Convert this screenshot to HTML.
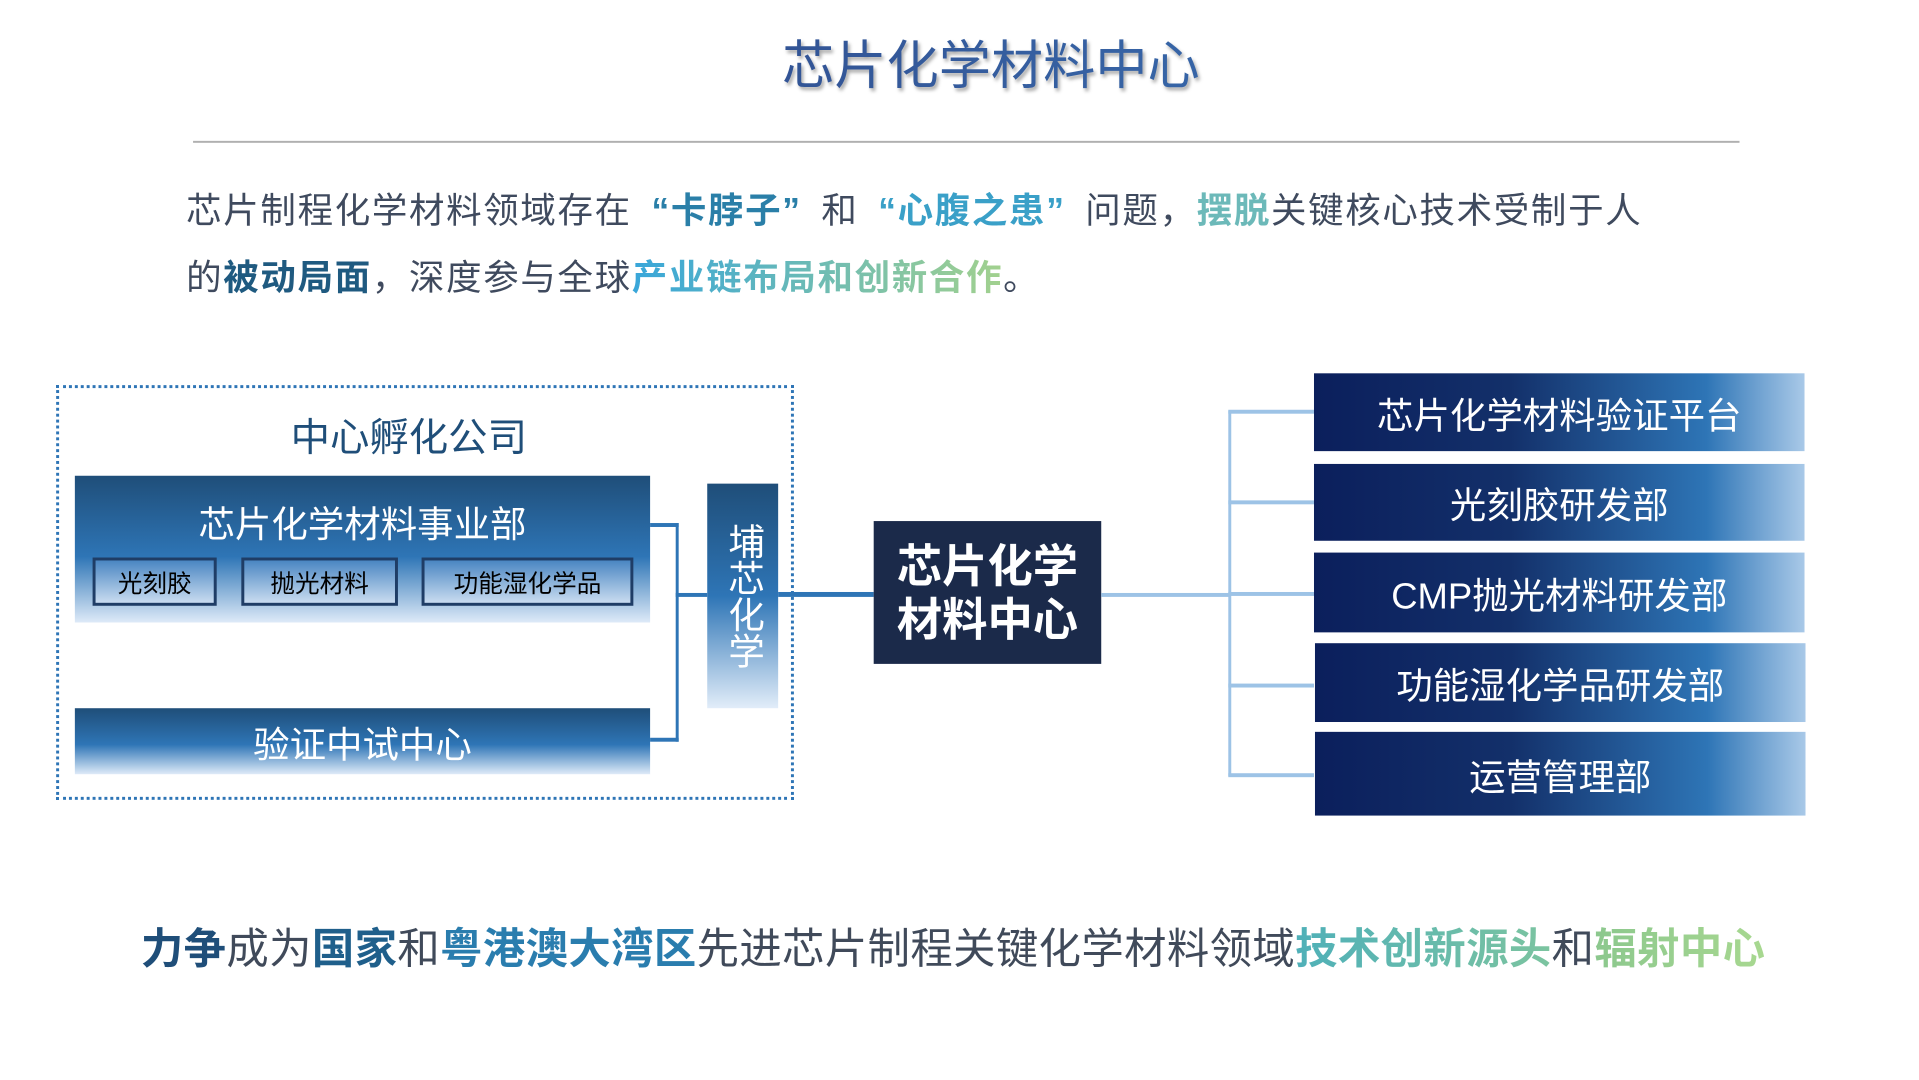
<!DOCTYPE html>
<html><head><meta charset="utf-8"><style>
*{margin:0;padding:0;box-sizing:border-box}
body{width:1919px;height:1080px;background:#fff;position:relative;overflow:hidden;font-family:"Liberation Sans","Noto Sans CJK SC",sans-serif}
#w{position:absolute;left:0;top:0;width:1919px;height:1080px;transform:scale(0.985);transform-origin:0 0}
.a{position:absolute}
.title{left:0;width:2012px;top:38px;text-align:center;font-size:53px;line-height:60px;background:linear-gradient(90deg,#2a3576,#3f84c6);-webkit-background-clip:text;background-clip:text;color:transparent;filter:drop-shadow(2px 3px 2px rgba(0,0,0,.35))}
.p{left:189px;font-size:36px;letter-spacing:1.7px;color:#3f4a5e;white-space:nowrap;line-height:44px}
.b{font-weight:bold}
.q{display:inline-block;margin:0 20px}
.g{-webkit-background-clip:text;background-clip:text;color:transparent}
.box{display:flex;align-items:center;justify-content:center;color:#fff}
.blue{background:linear-gradient(180deg,#1f4e79 0%,#2e75b6 55%,#deeaf8 100%)}
.sm{border:3px solid #1f3d66;background:linear-gradient(180deg,#4a86c2,#c9dcf0);color:#000;font-size:25px;top:566px;height:49px}
.r{left:1334px;width:498px;background:linear-gradient(90deg,#0b1f5c 0%,#13306a 40%,#2e75b6 80%,#a9c9e8 100%);font-size:37px}
.ln{background:#2e75b6}
.lb{background:#9dc3e6}
</style></head><body><div id="w">
<div class="a title">芯片化学材料中心</div>
<div class="a" style="left:196px;top:143px;width:1570px;height:2px;background:#b0b0b0"></div>
<div class="a p" style="top:192px">芯片制程化学材料领域存在<span class="b q" style="color:#2a7fa8">“卡脖子”</span>和<span class="b q" style="color:#3aa0c8">“心腹之患”</span>问题，<span class="b" style="color:#6cb9b9">摆脱</span>关键核心技术受制于人</div>
<div class="a p" style="top:260px">的<span class="b" style="color:#1f5a80">被动局面</span>，深度参与全球<span class="b g" style="background-image:linear-gradient(90deg,#38a6da,#a2d18e)">产业链布局和创新合作</span>。</div>

<div class="a" style="left:57px;top:391px;width:749px;height:421px;border:3px dotted #2e75b6"></div>
<div class="a" style="left:230px;top:412px;width:370px;text-align:center;font-size:40px;color:#1f4e79">中心孵化公司</div>
<div class="a blue" style="left:76px;top:483px;width:584px;height:149px"></div>
<div class="a" style="left:76px;top:502px;width:584px;text-align:center;color:#fff;font-size:37px">芯片化学材料事业部</div>
<div class="a box sm" style="left:94px;width:126px">光刻胶</div>
<div class="a box sm" style="left:245px;width:159px">抛光材料</div>
<div class="a box sm" style="left:428px;width:215px">功能湿化学品</div>
<div class="a box blue" style="left:76px;top:719px;width:584px;height:67px;font-size:37px">验证中试中心</div>

<div class="a ln" style="left:660px;top:531px;width:29px;height:4px"></div>
<div class="a ln" style="left:660px;top:749px;width:29px;height:4px"></div>
<div class="a ln" style="left:686px;top:531px;width:3px;height:222px"></div>
<div class="a ln" style="left:686px;top:602px;width:32px;height:4px"></div>
<div class="a box" style="left:718px;top:491px;width:72px;height:228px;background:linear-gradient(180deg,#1f4e79 0%,#2e75b6 50%,#e2edf9 100%);font-size:37px;line-height:44px;writing-mode:vertical-rl">埔芯化学</div>
<div class="a ln" style="left:790px;top:601px;width:97px;height:5px"></div>
<div class="a box" style="left:887px;top:529px;width:231px;height:145px;background:#1b2a4a;font-size:46px;font-weight:bold;line-height:54px;text-align:center">芯片化学<br>材料中心</div>
<div class="a lb" style="left:1118px;top:602px;width:130px;height:4px"></div>
<div class="a lb" style="left:1247px;top:417px;width:3px;height:371px"></div>
<div class="a lb" style="left:1247px;top:416px;width:87px;height:4px"></div>
<div class="a lb" style="left:1247px;top:508px;width:87px;height:4px"></div>
<div class="a lb" style="left:1247px;top:601px;width:87px;height:4px"></div>
<div class="a lb" style="left:1247px;top:694px;width:87px;height:4px"></div>
<div class="a lb" style="left:1247px;top:785px;width:87px;height:4px"></div>
<div class="a box r" style="top:379px;height:79px">芯片化学材料验证平台</div>
<div class="a box r" style="top:471px;height:78px">光刻胶研发部</div>
<div class="a box r" style="top:561px;height:81px">CMP抛光材料研发部</div>
<div class="a box r" style="top:653px;height:80px;left:1335px">功能湿化学品研发部</div>
<div class="a box r" style="top:743px;height:85px;left:1335px">运营管理部</div>

<div class="a" style="left:143px;top:938px;font-size:43px;line-height:52px;letter-spacing:0.4px;color:#404a5a;white-space:nowrap"><span class="b" style="color:#1f4e79">力争</span>成为<span class="b" style="color:#1f5f8b">国家</span>和<span class="b" style="color:#2a7dae">粤港澳大湾区</span>先进芯片制程关键化学材料领域<span class="b g" style="background-image:linear-gradient(90deg,#4fb0b8,#7cc4a0)">技术创新源头</span>和<span class="b g" style="background-image:linear-gradient(90deg,#8cc88e,#a8d890)">辐射中心</span></div>
</div></body></html>
